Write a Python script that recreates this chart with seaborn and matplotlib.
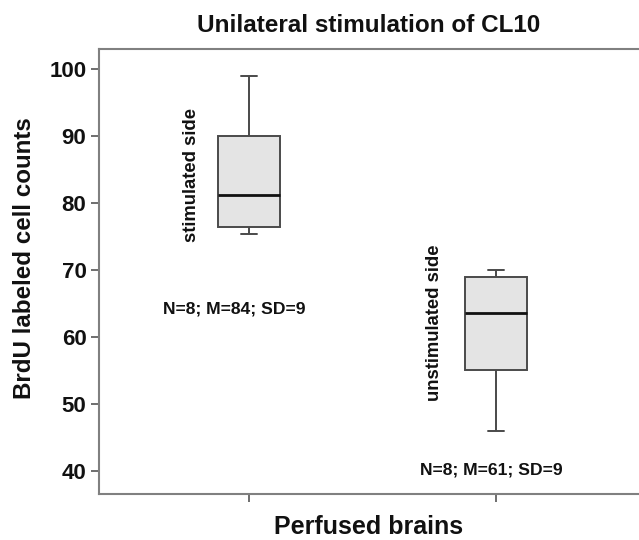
import numpy as np
import pandas as pd
import matplotlib
matplotlib.use("Agg")
import matplotlib.pyplot as plt
import seaborn as sns

# BrdU labeled cell counts per perfused brain (N=8 each side)
sides = ["stimulated side", "unstimulated side"]
stimulated = [75.4, 76.0, 76.7, 80.0, 82.6, 89.0, 93.0, 99.0]
unstimulated = [46.0, 53.0, 55.8, 62.5, 64.9, 68.8, 69.8, 70.0]
summaries = ["N=8; M=84; SD=9", "N=8; M=61; SD=9"]
y_ticks = [40, 50, 60, 70, 80, 90, 100]

df = pd.DataFrame({
    "side": np.repeat(sides, len(stimulated)),
    "count": stimulated + unstimulated,
})

sns.set_style("white")
plt.rcParams["font.family"] = ["Liberation Sans Narrow", "DejaVu Sans Condensed",
                               "Liberation Sans", "DejaVu Sans"]
plt.rcParams["font.stretch"] = "condensed"
plt.rcParams["font.weight"] = "bold"
text_color = "#111111"

fig = plt.figure(figsize=(6.39, 5.40), dpi=100)
ax = fig.add_axes([0.1549, 0.0861, 0.8451, 0.8232])

sns.boxplot(
    data=df, x="side", y="count", ax=ax,
    width=0.251, color="#e4e4e4", saturation=1,
    linecolor="#4a4a4a", linewidth=1.4,
    medianprops=dict(color="#111111", linewidth=2.0),
    capwidths=0.065, whis=1.5,
)

ax.set_xlim(-0.607, 1.579)
ax.set_ylim(36.7, 103.06)
ax.set_yticks(y_ticks)
ax.set_xticks([0, 1])
ax.set_xticklabels(["", ""])

for s in ["top", "left", "bottom"]:
    ax.spines[s].set_color("#808080")
    ax.spines[s].set_linewidth(1.5)
ax.spines["right"].set_visible(False)

ax.tick_params(axis="both", bottom=True, left=True, direction="out",
               length=6, width=1.2, color="#555555", labelsize=16, pad=3,
               labelcolor=text_color)

ax.set_title("Unilateral stimulation of CL10", fontsize=17.5,
             fontweight="bold", color=text_color, pad=12)
ax.set_xlabel("Perfused brains", fontsize=18, fontweight="bold",
              color=text_color)
ax.set_ylabel("BrdU labeled cell counts", fontsize=17.4, fontweight="bold",
              color=text_color)
ax.xaxis.set_label_coords(0.5, -0.048)
ax.yaxis.set_label_coords(-0.116, 0.53)

# group names written vertically beside each box, summaries below
name_xy = [(-0.231, 84.25), (0.753, 62.2)]
summary_xy = [(-0.061, 64.2), (0.980, 40.2)]
for name, (nx, ny), summ, (sx, sy) in zip(sides, name_xy, summaries, summary_xy):
    ax.text(nx, ny, name, rotation=90, ha="center", va="center",
            fontsize=13.3, fontweight="bold", color=text_color)
    ax.text(sx, sy, summ, ha="center", va="center",
            fontsize=12.6, fontweight="bold", color=text_color)

fig.savefig("out.png", dpi=100, facecolor="white")
